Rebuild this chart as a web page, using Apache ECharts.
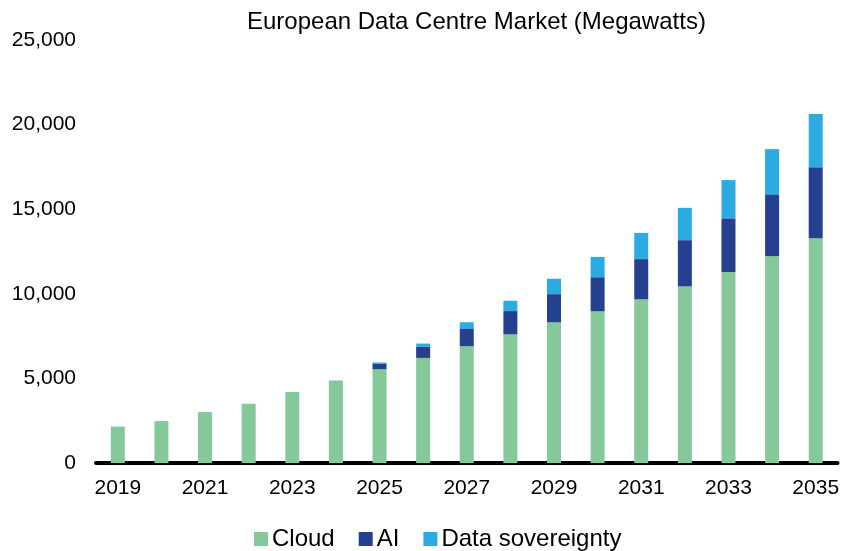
<!DOCTYPE html>
<html>
<head>
<meta charset="utf-8">
<script src="https://cdn.jsdelivr.net/npm/echarts@6/dist/echarts.min.js"></script>
<style>
  html, body { margin: 0; padding: 0; background: #fff; }
  #chart { width: 842px; height: 551px; }
</style>
</head>
<body>
<div id="chart"></div>
<script>
// data (megawatts)
const years = ['2019', '2020', '2021', '2022', '2023', '2024', '2025', '2026', '2027',
  '2028', '2029', '2030', '2031', '2032', '2033', '2034', '2035']
const cloud = [2150, 2480, 3010, 3500, 4200, 4880, 5540, 6210, 6900,
  7600, 8310, 8960, 9670, 10440, 11280, 12230, 13290]
const ai = [0, 0, 0, 0, 0, 0, 340, 670, 1020,
  1380, 1670, 2020, 2380, 2730, 3180, 3650, 4190]
const sovereignty = [0, 0, 0, 0, 0, 0, 60, 180, 400,
  610, 910, 1200, 1550, 1910, 2260, 2670, 3150]
const yTicks = [0, 5000, 10000, 15000, 20000, 25000]

const font = 'Liberation Sans, Arial, sans-serif'

const chart = echarts.init(document.getElementById('chart'))

function bar(name, data, color) {
  return {
    name: name,
    type: 'bar',
    stack: 'total',
    data: data,
    barWidth: 14,
    itemStyle: { color: color },
    emphasis: { disabled: true }
  }
}

chart.setOption({
  animation: false,
  textStyle: { fontFamily: font },
  title: {
    text: 'European Data Centre Market (Megawatts)',
    left: 247,
    top: 10,
    padding: 0,
    textStyle: { fontSize: 24, fontWeight: 'normal', color: '#000', fontFamily: font }
  },
  legend: {
    left: 254,
    top: 527,
    padding: 0,
    itemWidth: 14,
    itemHeight: 14,
    itemGap: 24,
    icon: 'rect',
    textStyle: { fontSize: 24, color: '#000', fontFamily: font, padding: [0, 0, 0, -1] },
    data: ['Cloud', 'AI', 'Data sovereignty']
  },
  grid: { left: 96, right: 2, top: 40, bottom: 88 },
  xAxis: {
    type: 'category',
    data: years,
    axisLine: { lineStyle: { color: '#000', width: 4 } },
    axisTick: { show: false },
    axisLabel: { interval: 1, fontSize: 21, color: '#000', margin: 15, fontFamily: font }
  },
  yAxis: {
    type: 'value',
    min: yTicks[0],
    max: yTicks[yTicks.length - 1],
    interval: yTicks[1] - yTicks[0],
    axisLine: { show: false },
    axisTick: { show: false },
    splitLine: { show: false },
    axisLabel: {
      fontSize: 21,
      color: '#000',
      margin: 20,
      fontFamily: font,
      formatter: v => v.toLocaleString('en-US')
    }
  },
  series: [
    bar('Cloud', cloud, '#85C99A'),
    bar('AI', ai, '#25408F'),
    bar('Data sovereignty', sovereignty, '#2CABE2')
  ]
})
</script>
</body>
</html>
